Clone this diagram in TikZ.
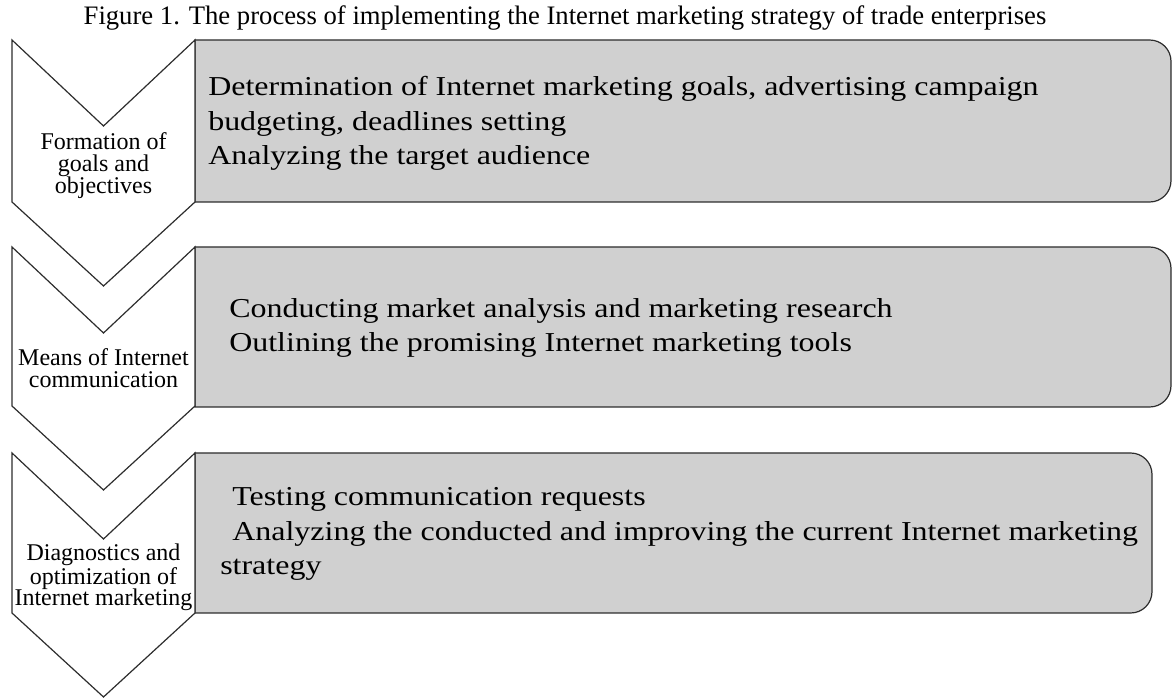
\documentclass[tikz,border=0pt]{standalone}
\usepackage{fontspec}
\setmainfont{Liberation Serif}
\newfontfamily\stagefont[FakeStretch=1.17]{Liberation Serif}
\usetikzlibrary{positioning}

\definecolor{stagefill}{RGB}{208,208,208}
\definecolor{stageline}{RGB}{45,45,45}

\tikzset{
  chevron/.style={draw=stageline,line width=0.9pt,fill=white,line join=miter},
  stagebox/.style={draw=stageline,line width=0.9pt,fill=stagefill},
  stagetext/.style={anchor=base west,align=left,inner sep=0pt,
    font=\stagefont\fontsize{20.5}{26}\selectfont},
  chevtext/.style={anchor=base,align=center,inner sep=0pt,
    font=\fontsize{18}{16.5}\selectfont}
}

\begin{document}
\begin{tikzpicture}[x=0.75pt,y=-0.75pt]

  \useasboundingbox (0,0) rectangle (1172,698);

  \node [anchor=base,inner sep=0pt,font=\fontsize{20}{24}\selectfont] (title) at (565,25)
    {Figure 1. The process of implementing the Internet marketing strategy of trade enterprises};

  \draw [stagebox] (195,40) [rounded corners=16pt] -- (1171,40) -- (1171,202) [sharp corners] -- (195,202) -- cycle;
  \draw [stagebox] (195,247) [rounded corners=16pt] -- (1171,247) -- (1171,407) [sharp corners] -- (195,407) -- cycle;
  \draw [stagebox] (195,453) [rounded corners=16pt] -- (1152,453) -- (1152,613) [sharp corners] -- (195,613) -- cycle;

  \foreach \top/\bot in {40/202, 247/406, 453/613}
    \draw [chevron] (12,\top) -- (103.5,\top+86) -- (195,\top) -- (195,\bot)
      -- (103.5,\bot+84) -- (12,\bot) -- cycle;

  \node [chevtext] (goals) at (103.5,194) {Formation of\\goals and\\objectives};
  \node [chevtext] (means) at (103.5,388) {Means of Internet\\communication};
  \node [chevtext] (diagnostics) at (103.5,606) {Diagnostics and\\optimization of\\Internet marketing};

  \node [stagetext] (goalstext) at (208,165)
    {Determination of Internet marketing goals, advertising campaign\\
     budgeting, deadlines setting\\
     Analyzing the target audience};
  \node [stagetext] (meanstext) at (229,352)
    {Conducting market analysis and marketing research\\
     Outlining the promising Internet marketing tools};
  \node [stagetext] (diagnosticstext) at (220,575)
    {\hspace*{9pt}Testing communication requests\\
     \hspace*{9pt}Analyzing the conducted and improving the current Internet marketing\\
     strategy};

\end{tikzpicture}
\end{document}
